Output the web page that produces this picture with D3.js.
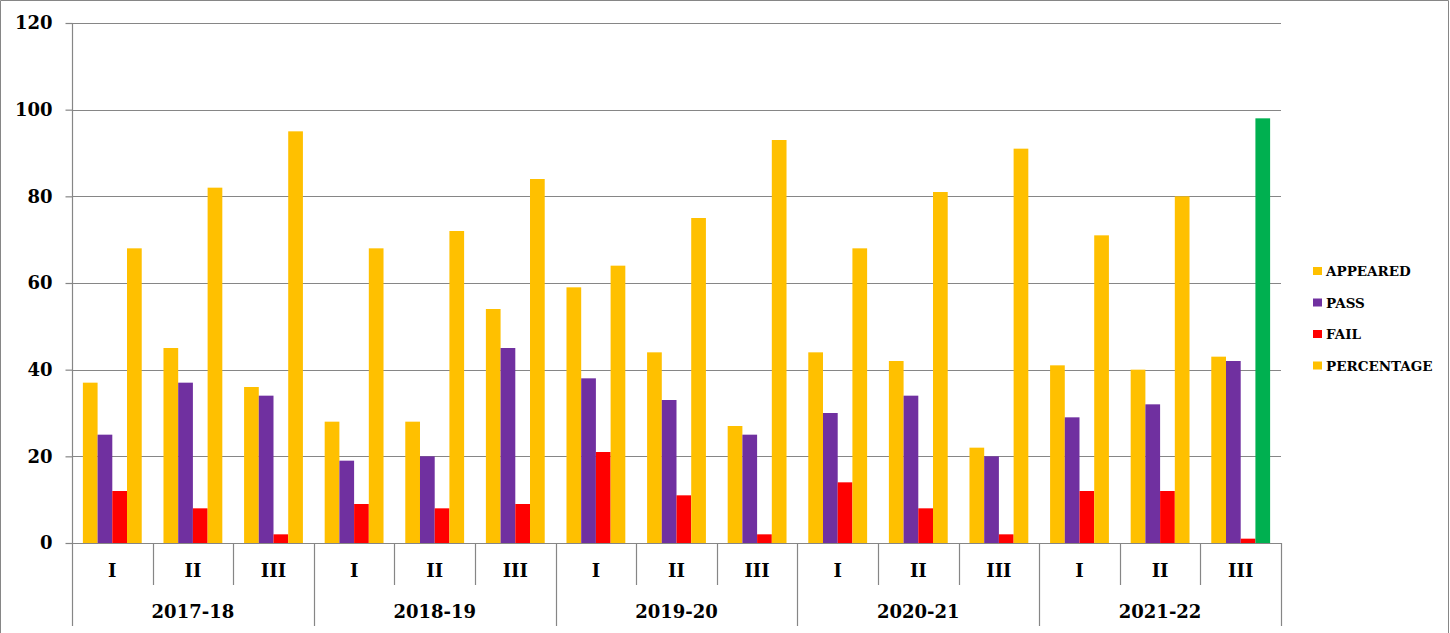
<!DOCTYPE html>
<html>
<head>
<meta charset="utf-8">
<script src="https://cdn.jsdelivr.net/npm/d3@7"></script>
<style>
  body { margin: 0; background: #fff; }
  text { font-family: "DejaVu Serif", "Liberation Serif", serif; font-weight: bold; fill: #000; }
</style>
</head>
<body>
<div id="viz"></div>
<script>
var years = ["2017-18", "2018-19", "2019-20", "2020-21", "2021-22"];
var terms = ["I", "II", "III"];
var series = ["APPEARED", "PASS", "FAIL", "PERCENTAGE"];
var yTicks = [0, 20, 40, 60, 80, 100, 120];

// one value per year/term, in the order of years x terms
var appeared   = [37, 45, 36,  28, 28, 54,  59, 44, 27,  44, 42, 22,  41, 40, 43];
var pass       = [25, 37, 34,  19, 20, 45,  38, 33, 25,  30, 34, 20,  29, 32, 42];
var fail       = [12,  8,  2,   9,  8,  9,  21, 11,  2,  14,  8,  2,  12, 12,  1];
var percentage = [68, 82, 95,  68, 72, 84,  64, 75, 93,  68, 81, 91,  71, 80, 98];

var colors = { APPEARED: "#FFC000", PASS: "#7030A0", FAIL: "#FF0000", PERCENTAGE: "#FFC000" };
var highlightColor = "#00B050"; // last percentage bar is shown in green

var width = 1450,
    height = 633,
    plotLeft = 72, plotRight = 1281, plotTop = 23, plotBottom = 543;

var cats = [];
years.forEach(function(yr) { terms.forEach(function(t) { cats.push(yr + "|" + t); }); });

var rows = cats.map(function(c, i) {
  return { cat: c, APPEARED: appeared[i], PASS: pass[i], FAIL: fail[i], PERCENTAGE: percentage[i] };
});

var svg = d3.select("#viz").append("svg")
    .attr("width", width)
    .attr("height", height);

// outer border
svg.append("path")
    .attr("d", "M0.5," + (height + 5) + "V0.5H" + (width - 1.5) + "V" + (height + 5))
    .attr("fill", "none")
    .attr("stroke", "#868686");

var x0 = d3.scaleBand().domain(cats).range([plotLeft, plotRight]);
var bw = x0.bandwidth();
var x1 = d3.scaleBand().domain(series).range([bw * 0.135, bw * 0.865]);
var y = d3.scaleLinear().domain([0, 120]).range([plotBottom, plotTop]);

// grid
svg.append("g").selectAll("line")
    .data(yTicks)
  .enter().append("line")
    .attr("x1", plotLeft).attr("x2", plotRight)
    .attr("y1", function(d) { return Math.round(y(d)) + 0.5; })
    .attr("y2", function(d) { return Math.round(y(d)) + 0.5; })
    .attr("stroke", "#868686")
    .attr("stroke-width", 1.2);

// y axis
var yAxis = svg.append("g")
    .attr("transform", "translate(" + (plotLeft + 0.5) + ",0.5)")
    .call(d3.axisLeft(y).tickValues(yTicks).tickSize(7).tickPadding(13).offset(0));
yAxis.select(".domain").remove();
yAxis.selectAll(".tick line").attr("stroke", "#868686").attr("stroke-width", 1.2);
yAxis.selectAll("text")
    .style("font-size", "18px")
    .style("font-family", "'DejaVu Serif', serif")
    .style("font-weight", "bold")
    .attr("fill", "#000");

// bars
var groups = svg.append("g").selectAll("g")
    .data(rows)
  .enter().append("g")
    .attr("transform", function(d) { return "translate(" + x0(d.cat) + ",0)"; });

groups.selectAll("rect")
    .data(function(d, i) {
      return series.map(function(s) {
        return { key: s, value: d[s], last: i === rows.length - 1 };
      });
    })
  .enter().append("rect")
    .attr("x", function(d) { return x1(d.key); })
    .attr("width", x1.bandwidth())
    .attr("y", function(d) { return y(d.value); })
    .attr("height", function(d) { return plotBottom - y(d.value); })
    .attr("fill", function(d) {
      return (d.last && d.key === "PERCENTAGE") ? highlightColor : colors[d.key];
    });

// left axis line, running down through the category rows
svg.append("line")
    .attr("x1", plotLeft + 0.5).attr("x2", plotLeft + 0.5)
    .attr("y1", plotTop).attr("y2", 626)
    .attr("stroke", "#868686").attr("stroke-width", 1.2);

// category separators
var bounds = d3.range(1, cats.length + 1);
svg.append("g").selectAll("line")
    .data(bounds)
  .enter().append("line")
    .attr("x1", function(i) { return Math.round(plotLeft + i * bw) + 0.5; })
    .attr("x2", function(i) { return Math.round(plotLeft + i * bw) + 0.5; })
    .attr("y1", plotBottom)
    .attr("y2", function(i) { return i % terms.length === 0 ? 626 : 585; })
    .attr("stroke", "#868686").attr("stroke-width", 1.2);

// term labels
svg.append("g").selectAll("text")
    .data(cats)
  .enter().append("text")
    .attr("x", function(c) { return x0(c) + bw / 2; })
    .attr("y", 577)
    .attr("text-anchor", "middle")
    .style("font-size", "18px")
    .text(function(c) { return c.split("|")[1]; });

// year labels
svg.append("g").selectAll("text")
    .data(years)
  .enter().append("text")
    .attr("x", function(yr) { return x0(yr + "|" + terms[1]) + bw / 2; })
    .attr("y", 618)
    .attr("text-anchor", "middle")
    .style("font-size", "18px")
    .text(function(yr) { return yr; });

// legend
var legend = svg.append("g").selectAll("g")
    .data(series)
  .enter().append("g")
    .attr("transform", function(d, i) { return "translate(1313," + (271 + i * 31.5) + ")"; });

legend.append("rect")
    .attr("x", 0).attr("y", -4)
    .attr("width", 9).attr("height", 8)
    .attr("fill", function(d) { return colors[d]; });

legend.append("text")
    .attr("x", 13)
    .attr("y", 5)
    .style("font-size", "13.5px")
    .text(function(d) { return d; });
</script>
</body>
</html>
